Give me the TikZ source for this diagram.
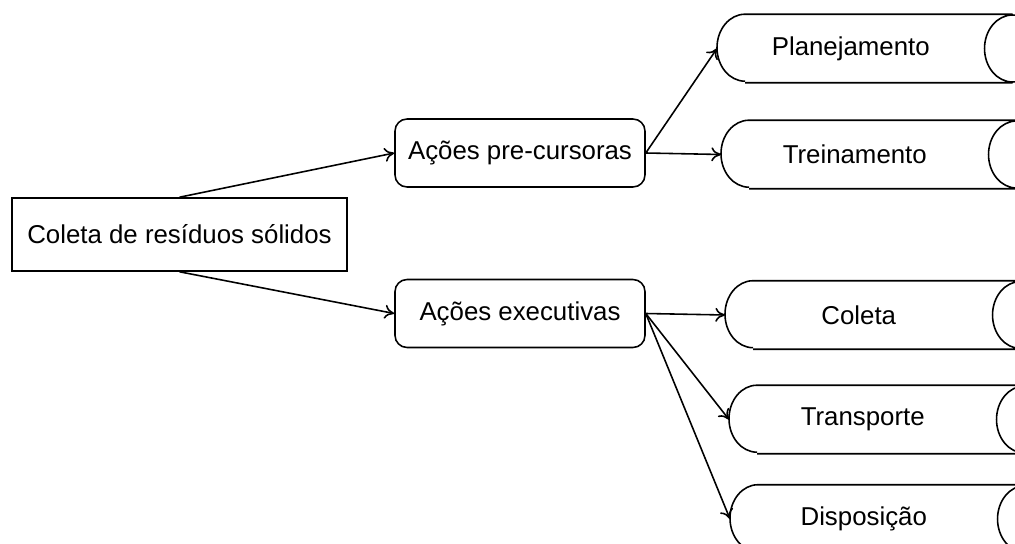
\documentclass[tikz,border=0pt]{standalone}
\usepackage{fontspec}
\setmainfont{Liberation Sans}
\usetikzlibrary{arrows.meta}

\begin{document}
\begin{tikzpicture}[x=0.02cm, y=-0.02cm, >={To[length=5.5pt,width=8pt]}, line width=0.9pt,
    font=\fontsize{14.7}{17}\selectfont,
    rootbox/.style={draw, rectangle, minimum width=6.7cm, minimum height=1.46cm, inner sep=0pt},
    actbox/.style={draw, rectangle, rounded corners=0.24cm, minimum width=5cm, minimum height=1.36cm, inner sep=0pt},
    tankbox/.style={rectangle, minimum width=5.32cm, minimum height=1.34cm, inner sep=0pt, anchor=west}]
  % --- page frame, 1015 x 544 px ---
  \def\wmax{1015}\def\hmax{544}
  \def\rx{0.56cm}\def\ry{0.67cm}
  \useasboundingbox (0,0) rectangle (\wmax,\hmax);

  % Root
  \node[rootbox] (coleta) at (179.5,234.5) {Coleta de resíduos sólidos};

  % Two groups of actions
  \node[actbox] (pre) at (520,153) {Ações pre-cursoras};
  \node[actbox] (exe) at (520,313.5) {Ações executivas};

  % Leaves (cut by the right border)
  \node[tankbox] (plan) at (717,48.5) {Planejamento};
  \node[tankbox] (trein) at (721,154.5) {Treinamento};
  \node[tankbox] (col) at (725,315) {Coleta};
  \node[tankbox] (transp) at (729,419.5) {Transporte};
  \node[tankbox] (disp) at (730,519) {Disposição};

  % Cylinder outlines round the leaves
  \foreach \leaf in {plan,trein,col,transp,disp}
    \draw ([xshift=\rx]\leaf.north west) -- ([xshift=\rx]\leaf.north east)
          ([xshift=\rx]\leaf.south west) -- ([xshift=\rx]\leaf.south east)
          ([xshift=\rx]\leaf.east) ellipse [x radius=\rx, y radius=\ry]
          ([xshift=\rx]\leaf.north west) arc [start angle=90, end angle=270, x radius=\rx, y radius=\ry];

  % Connectors
  \draw[->] (coleta.north) -- (pre.west);
  \draw[->] (coleta.south) -- (exe.west);
  \foreach \leaf in {plan,trein}
    \draw[->] (pre.east) -- (\leaf.west);
  \foreach \leaf in {col,transp,disp}
    \draw[->] (exe.east) -- (\leaf.west);
\end{tikzpicture}
\end{document}
